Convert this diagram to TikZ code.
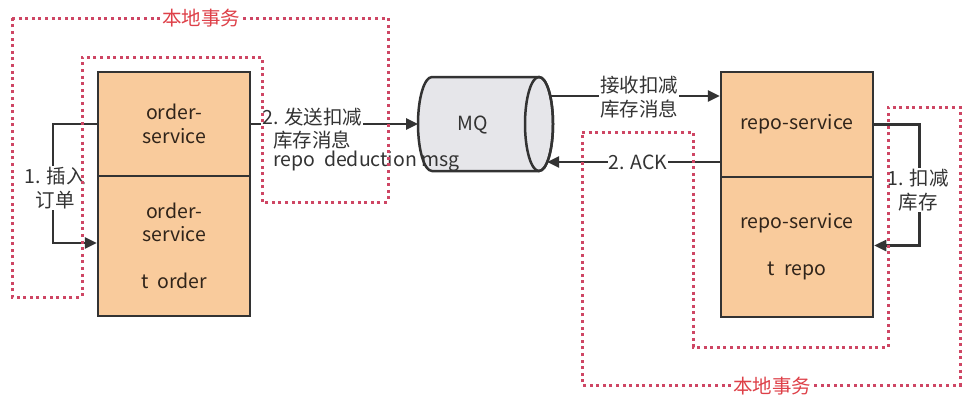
\documentclass[tikz,border=0pt]{standalone}
\usepackage{fontspec}
\setmainfont{Noto Sans CJK SC}
\usetikzlibrary{arrows.meta}
\definecolor{boxfill}{RGB}{249,203,156}
\definecolor{edge}{RGB}{51,51,51}
\definecolor{boxtext}{RGB}{48,36,26}
\definecolor{dotc}{RGB}{206,70,100}
\definecolor{txred}{RGB}{222,64,72}
\definecolor{mqfill}{RGB}{230,230,234}
\begin{document}
\begin{tikzpicture}[x=1pt,y=-1pt,
  svc/.style={draw=edge, line width=2.5pt, fill=boxfill, minimum width=152pt,
    text=boxtext, font=\fontsize{19.5}{23.5}\selectfont, align=center, inner sep=0pt},
  arr/.style={draw=edge, line width=2.5pt, -{Triangle[length=12pt,width=11pt]}},
  lbl/.style={fill=white, inner sep=1pt, font=\fontsize{19.5}{23.5}\selectfont, text=edge, align=center},
  lbln/.style={inner sep=1pt, font=\fontsize{19.5}{23.5}\selectfont, text=edge},
  txn/.style={draw=dotc, line width=3pt, dash pattern=on 3pt off 3.6pt},
  txlbl/.style={fill=white, text=txred, inner sep=2pt, font=\fontsize{19.5}{22}\selectfont}]
\useasboundingbox[fill=white] (0,0) rectangle (976,407);

% boxes
\node[svc, minimum height=104pt] (o1) at (174,124) {order-\\service};
\node[svc, minimum height=140pt] (o2) at (174,246) {order-\\service\\[23.5pt]t\hspace{0.45em}order};
\node[svc, minimum height=105pt] (r1) at (797,124.5) {repo-service};
\node[svc, minimum height=140pt] (r2) at (797,247) {repo-service\\[23.5pt]t\hspace{0.45em}repo};

% MQ cylinder
\filldraw[fill=mqfill, draw=edge, line width=2.5pt]
  (539,77) -- (432,77)
  .. controls (424.27,77) and (418,98.04) .. (418,124)
  .. controls (418,149.96) and (424.27,171) .. (432,171)
  -- (539,171)
  .. controls (546.73,171) and (553,149.96) .. (553,124)
  .. controls (553,98.04) and (546.73,77) .. (539,77) -- cycle;
\draw[edge, line width=2.5pt] (539,124) ellipse[x radius=14, y radius=47];
\node[font=\fontsize{19.5}{22}\selectfont, text=edge] (mq) at (473,125) {MQ};
\coordinate (mqin) at (418,124);
\coordinate (mqout) at (550.2,96);
\coordinate (mqack) at (547.2,162);

% connectors
\draw[arr] (o1.west) -- ++(-44,0) coordinate (k1) -- ++(0,119) coordinate (k2) -- (k2 -| o2.west);
\node[lbl] (l1) at (55,188) {1. 插入\\订单};

\draw[arr] (o1.east) -- (mqin);
\node[lbl, anchor=west] (l2a) at (261,117) {2. 发送扣减};
\node[lbln, anchor=west] (l2b) at (272,140) {库存消息};
\node[lbln, anchor=west] (l2c) at (272,161) {repo\hspace{0.45em}deduction msg};

\draw[arr] (mqout) -- (mqout -| r1.west);
\node[lbl] (l3) at (639,97) {接收扣减\\库存消息};

\draw[arr] (mqack -| r1.west) -- (mqack);
\node[lbl] (l4) at (638,162) {2. ACK};

\draw[arr] (r1.east) -- ++(45,0) coordinate (k3) -- ++(0,121) coordinate (k4) -- (k4 -| r2.east);
\node[lbl] (l5) at (918,190) {1. 扣减\\库存};

% local transactions
\draw[txn] (12,18) -- (388,18) -- (388,202) -- (262,202) -- (262,57) -- (82,57) -- (82,297) -- (12,297) -- cycle;
\node[txlbl] (t1) at (201,18) {本地事务};
\draw[txn] (582,132) -- (693,132) -- (693,347) -- (888,347) -- (888,107) -- (960,107) -- (960,385) -- (582,385) -- cycle;
\node[txlbl] (t2) at (772,386) {本地事务};
\end{tikzpicture}
\end{document}
